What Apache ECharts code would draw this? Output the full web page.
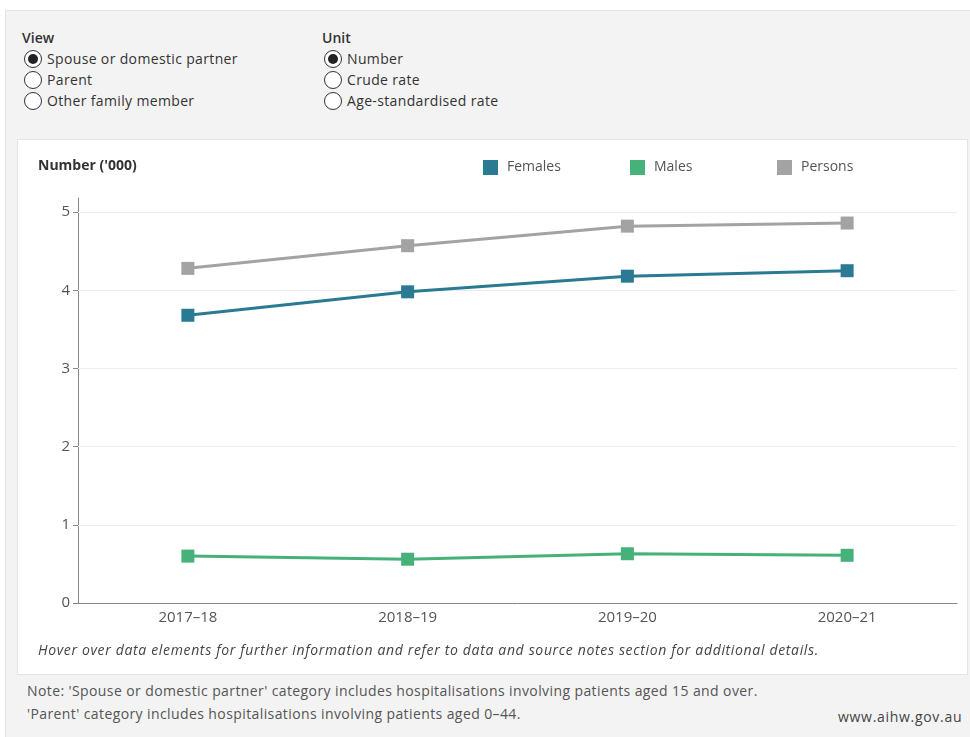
<!DOCTYPE html>
<html><head><meta charset="utf-8">
<script src="https://cdn.jsdelivr.net/npm/echarts@6/dist/echarts.min.js"></script>
<style>
html,body{margin:0;padding:0;width:970px;height:737px;background:#fff;font-family:"Open Sans",sans-serif;overflow:hidden}
#bg{position:absolute;left:5px;top:10px;width:965px;height:727px;background:#f3f3f3;border-left:1px solid #e2e2e2;border-top:1px solid #e2e2e2}
.t{position:absolute;white-space:nowrap;color:#333}
.h{font-size:14px;color:#333;font-weight:600}
.r{position:absolute;width:18px;height:18px;border:1px solid #333;border-radius:50%;background:#fff;box-sizing:border-box}
.r.on::after{content:"";position:absolute;left:3px;top:3px;width:10px;height:10px;border-radius:50%;background:#222}
.opt{position:absolute;font-size:14px;color:#333;white-space:nowrap;letter-spacing:0.35px}
#panel{position:absolute;left:17px;top:139px;width:951px;height:536px;background:#fff;border:1px solid #e4e4e4;box-sizing:border-box}
#chart{position:absolute;left:17px;top:139px;width:951px;height:536px}
.note{position:absolute;font-size:14px;color:#555;white-space:nowrap;letter-spacing:0.4px}
#hover{position:absolute;left:38px;top:640px;font-size:14px;font-style:italic;color:#444;white-space:nowrap;letter-spacing:0.66px}
</style></head>
<body>
<div id="bg"></div>
<div class="t h" style="left:22px;top:28px;">View</div>
<div class="r on" style="left:24px;top:50px;"></div><div class="opt" style="left:47px;top:49px;">Spouse or domestic partner</div>
<div class="r" style="left:24px;top:71px;"></div><div class="opt" style="left:47px;top:70px;">Parent</div>
<div class="r" style="left:24px;top:92px;"></div><div class="opt" style="left:47px;top:91px;">Other family member</div>
<div class="t h" style="left:322px;top:28px;">Unit</div>
<div class="r on" style="left:324px;top:50px;"></div><div class="opt" style="left:347px;top:49px;">Number</div>
<div class="r" style="left:324px;top:71px;"></div><div class="opt" style="left:347px;top:70px;">Crude rate</div>
<div class="r" style="left:324px;top:92px;"></div><div class="opt" style="left:347px;top:91px;">Age-standardised rate</div>
<div id="panel"></div>
<div id="chart"></div>
<div id="hover">Hover over data elements for further information and refer to data and source notes section for additional details.</div>
<div class="note" style="left:27px;top:681px;">Note: 'Spouse or domestic partner' category includes hospitalisations involving patients aged 15 and over.</div>
<div class="note" style="left:27px;top:704px;">'Parent' category includes hospitalisations involving patients aged 0–44.</div>
<div class="note" style="left:838px;top:707px;color:#444;letter-spacing:0.7px;">www.aihw.gov.au</div>
<script>
var categories = ['2017–18','2018–19','2019–20','2020–21'];
var females = [3.68, 3.98, 4.18, 4.25];
var males = [0.60, 0.56, 0.63, 0.61];
var persons = [4.28, 4.57, 4.82, 4.86];
var yTicks = [0, 1, 2, 3, 4, 5];
var gridValues = [1, 2, 3, 4, 5];

var colors = {Females:'#2a7a93', Males:'#46b27a', Persons:'#a3a3a3'};
var chart = echarts.init(document.getElementById('chart'), null, {renderer:'canvas'});
function mkSeries(name, data, extra){
  var s = {name:name, type:'line', data:data, symbol:'rect', symbolSize:13,
    lineStyle:{width:3, color:colors[name]}, itemStyle:{color:colors[name]}, z:3, animation:false};
  if (extra) for (var k in extra) s[k]=extra[k];
  return s;
}
var font = '"Open Sans", sans-serif';
function leg(name, left){
  return {data:[{name:name, icon:'rect'}], left:left, top:21, padding:0, itemWidth:15, itemHeight:15, itemGap:0,
    textStyle:{color:'#555', fontSize:14, fontFamily:font, padding:[0,0,0,4]}, selectedMode:false};
}
chart.setOption({
  animation:false,
  textStyle:{fontFamily:font},
  legend:[leg('Females',466), leg('Males',613), leg('Persons',760)],
  title:{text:"Number ('000)", left:21, top:20, padding:0, textStyle:{fontSize:14, fontWeight:'bold', color:'#333', fontFamily:font}},
  grid:{left:61, right:11, top:59, bottom:72},
  xAxis:{type:'category', data:categories, boundaryGap:true,
    axisLine:{lineStyle:{color:'#888', width:1}}, axisTick:{show:false},
    axisLabel:{color:'#555', fontSize:15, margin:7, fontFamily:font}, splitLine:{show:false}},
  yAxis:{type:'value', min:0, max:5.18, interval:1,
    axisLine:{show:true, lineStyle:{color:'#888'}},
    axisTick:{show:true, length:5, lineStyle:{color:'#888'}, customValues:yTicks},
    axisLabel:{color:'#555', fontSize:15, margin:8, fontFamily:font, customValues:yTicks,
      formatter:function(v){return Number.isInteger(v)?String(v):'';}},
    splitLine:{show:false}},
  series:[
    mkSeries('Females', females, {markLine:{silent:true, symbol:'none', label:{show:false}, animation:false,
      lineStyle:{color:'#ececec', type:'solid', width:1}, z:1,
      data:gridValues.map(function(v){return {yAxis:v};})}}),
    mkSeries('Males', males),
    mkSeries('Persons', persons)
  ]
});
</script>
</body></html>
